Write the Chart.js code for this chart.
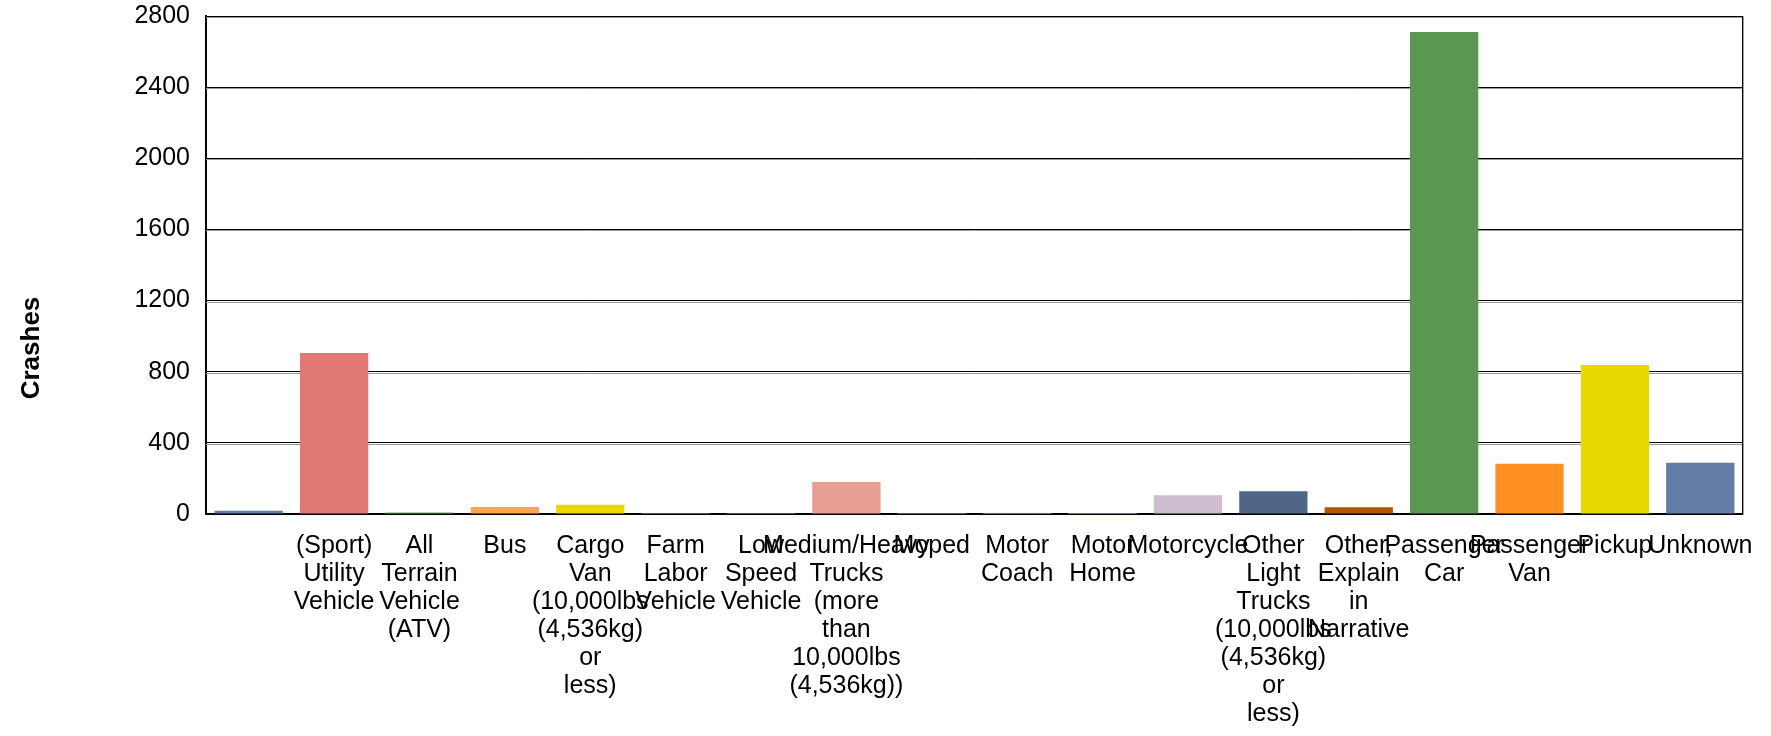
<!DOCTYPE html>
<html><head><meta charset="utf-8">
<script src="https://cdn.jsdelivr.net/npm/chart.js@4/dist/chart.umd.min.js"></script>
<style>html,body{margin:0;padding:0;background:#fff;}#wrap{width:1771px;height:736px;position:relative;}</style>
</head><body><div id="wrap"><canvas id="c" width="1771" height="736"></canvas></div>
<script>
const categories = [
  [""],
  ["(Sport)","Utility","Vehicle"],
  ["All","Terrain","Vehicle","(ATV)"],
  ["Bus"],
  ["Cargo","Van","(10,000lbs","(4,536kg)","or","less)"],
  ["Farm","Labor","Vehicle"],
  ["Low","Speed","Vehicle"],
  ["Medium/Heavy","Trucks","(more","than","10,000lbs","(4,536kg))"],
  ["Moped"],
  ["Motor","Coach"],
  ["Motor","Home"],
  ["Motorcycle"],
  ["Other","Light","Trucks","(10,000lbs","(4,536kg)","or","less)"],
  ["Other,","Explain","in","Narrative"],
  ["Passenger","Car"],
  ["Passenger","Van"],
  ["Pickup"],
  ["Unknown"]
];
const crashes = [18, 905, 8, 40, 52, 5, 6, 180, 6, 5, 6, 105, 128, 38, 2710, 282, 838, 288];
const barColors = ["#617CA6","#E07873","#6FAA62","#FFA64D","#EDD500","#A99CA5","#8DA6CF","#E89E94",
  "#A6C8A0","#F8C3A0","#F7EE80","#CFBDD0","#506687","#B35600","#5B9653","#FF9124","#E6D800","#637CA4"];
const yMin = 0, yMax = 2800, yStep = 400;
const yTitle = "Crashes";

const framePlugin = {
  id: 'frame',
  beforeDatasetsDraw(chart) {
    const {ctx, chartArea: a, scales: {y}} = chart;
    ctx.save();
    ctx.strokeStyle = '#9a9a9a'; ctx.lineWidth = 1;
    for (let v = yMin + yStep; v <= yMax; v += yStep) {
      const py = Math.round(y.getPixelForValue(v)) + 1.5;
      ctx.beginPath(); ctx.moveTo(a.left, py); ctx.lineTo(a.right, py); ctx.stroke();
    }
    ctx.strokeStyle = '#000';
    ctx.beginPath(); ctx.moveTo(Math.round(a.right) - 0.5, a.top); ctx.lineTo(Math.round(a.right) - 0.5, a.bottom); ctx.stroke();
    ctx.strokeStyle = '#a0a0a0';
    ctx.beginPath(); ctx.moveTo(Math.round(a.right) + 0.5, a.top); ctx.lineTo(Math.round(a.right) + 0.5, a.bottom + 1); ctx.stroke();
    ctx.restore();
  },
  afterDraw(chart) {
    const {ctx} = chart;
    ctx.save();
    ctx.translate(32, 348);
    ctx.rotate(-Math.PI / 2);
    ctx.font = 'bold 26px "Liberation Sans", Arial, sans-serif';
    ctx.fillStyle = '#000';
    ctx.textAlign = 'center';
    ctx.textBaseline = 'middle';
    ctx.fillText(yTitle, 0, 0);
    ctx.restore();
  }
};

new Chart(document.getElementById('c'), {
  type: 'bar',
  data: {
    labels: categories,
    datasets: [{ data: crashes, backgroundColor: barColors, borderWidth: 0,
      categoryPercentage: 1.0, barPercentage: 0.8 }]
  },
  options: {
    responsive: false, animation: false,
    layout: { padding: { top: 16, right: 28, bottom: 0, left: 0 } },
    plugins: { legend: { display: false }, tooltip: { enabled: false } },
    scales: {
      x: {
        grid: { display: false, drawTicks: false },
        border: { display: true, color: '#000', width: 2 },
        ticks: { autoSkip: false, maxRotation: 0, minRotation: 0, padding: 18, color: '#000',
          font: { family: '"Liberation Sans", Arial, sans-serif', size: 25, lineHeight: '28px' } },
        afterFit(s) { s.height = 222; s.paddingLeft = 0; s.paddingRight = 0; }
      },
      y: {
        min: yMin, max: yMax,
        grid: { color: '#000', lineWidth: 1, drawTicks: false },
        border: { display: true, color: '#000', width: 2 },
        ticks: { stepSize: yStep, padding: 16, color: '#000',
          callback: (v) => String(v),
          font: { family: '"Liberation Sans", Arial, sans-serif', size: 25 } },
        afterFit(s) { s.width = 206; s.paddingTop = 0; s.paddingBottom = 0; }
      }
    }
  },
  plugins: [framePlugin]
});
</script></body></html>
